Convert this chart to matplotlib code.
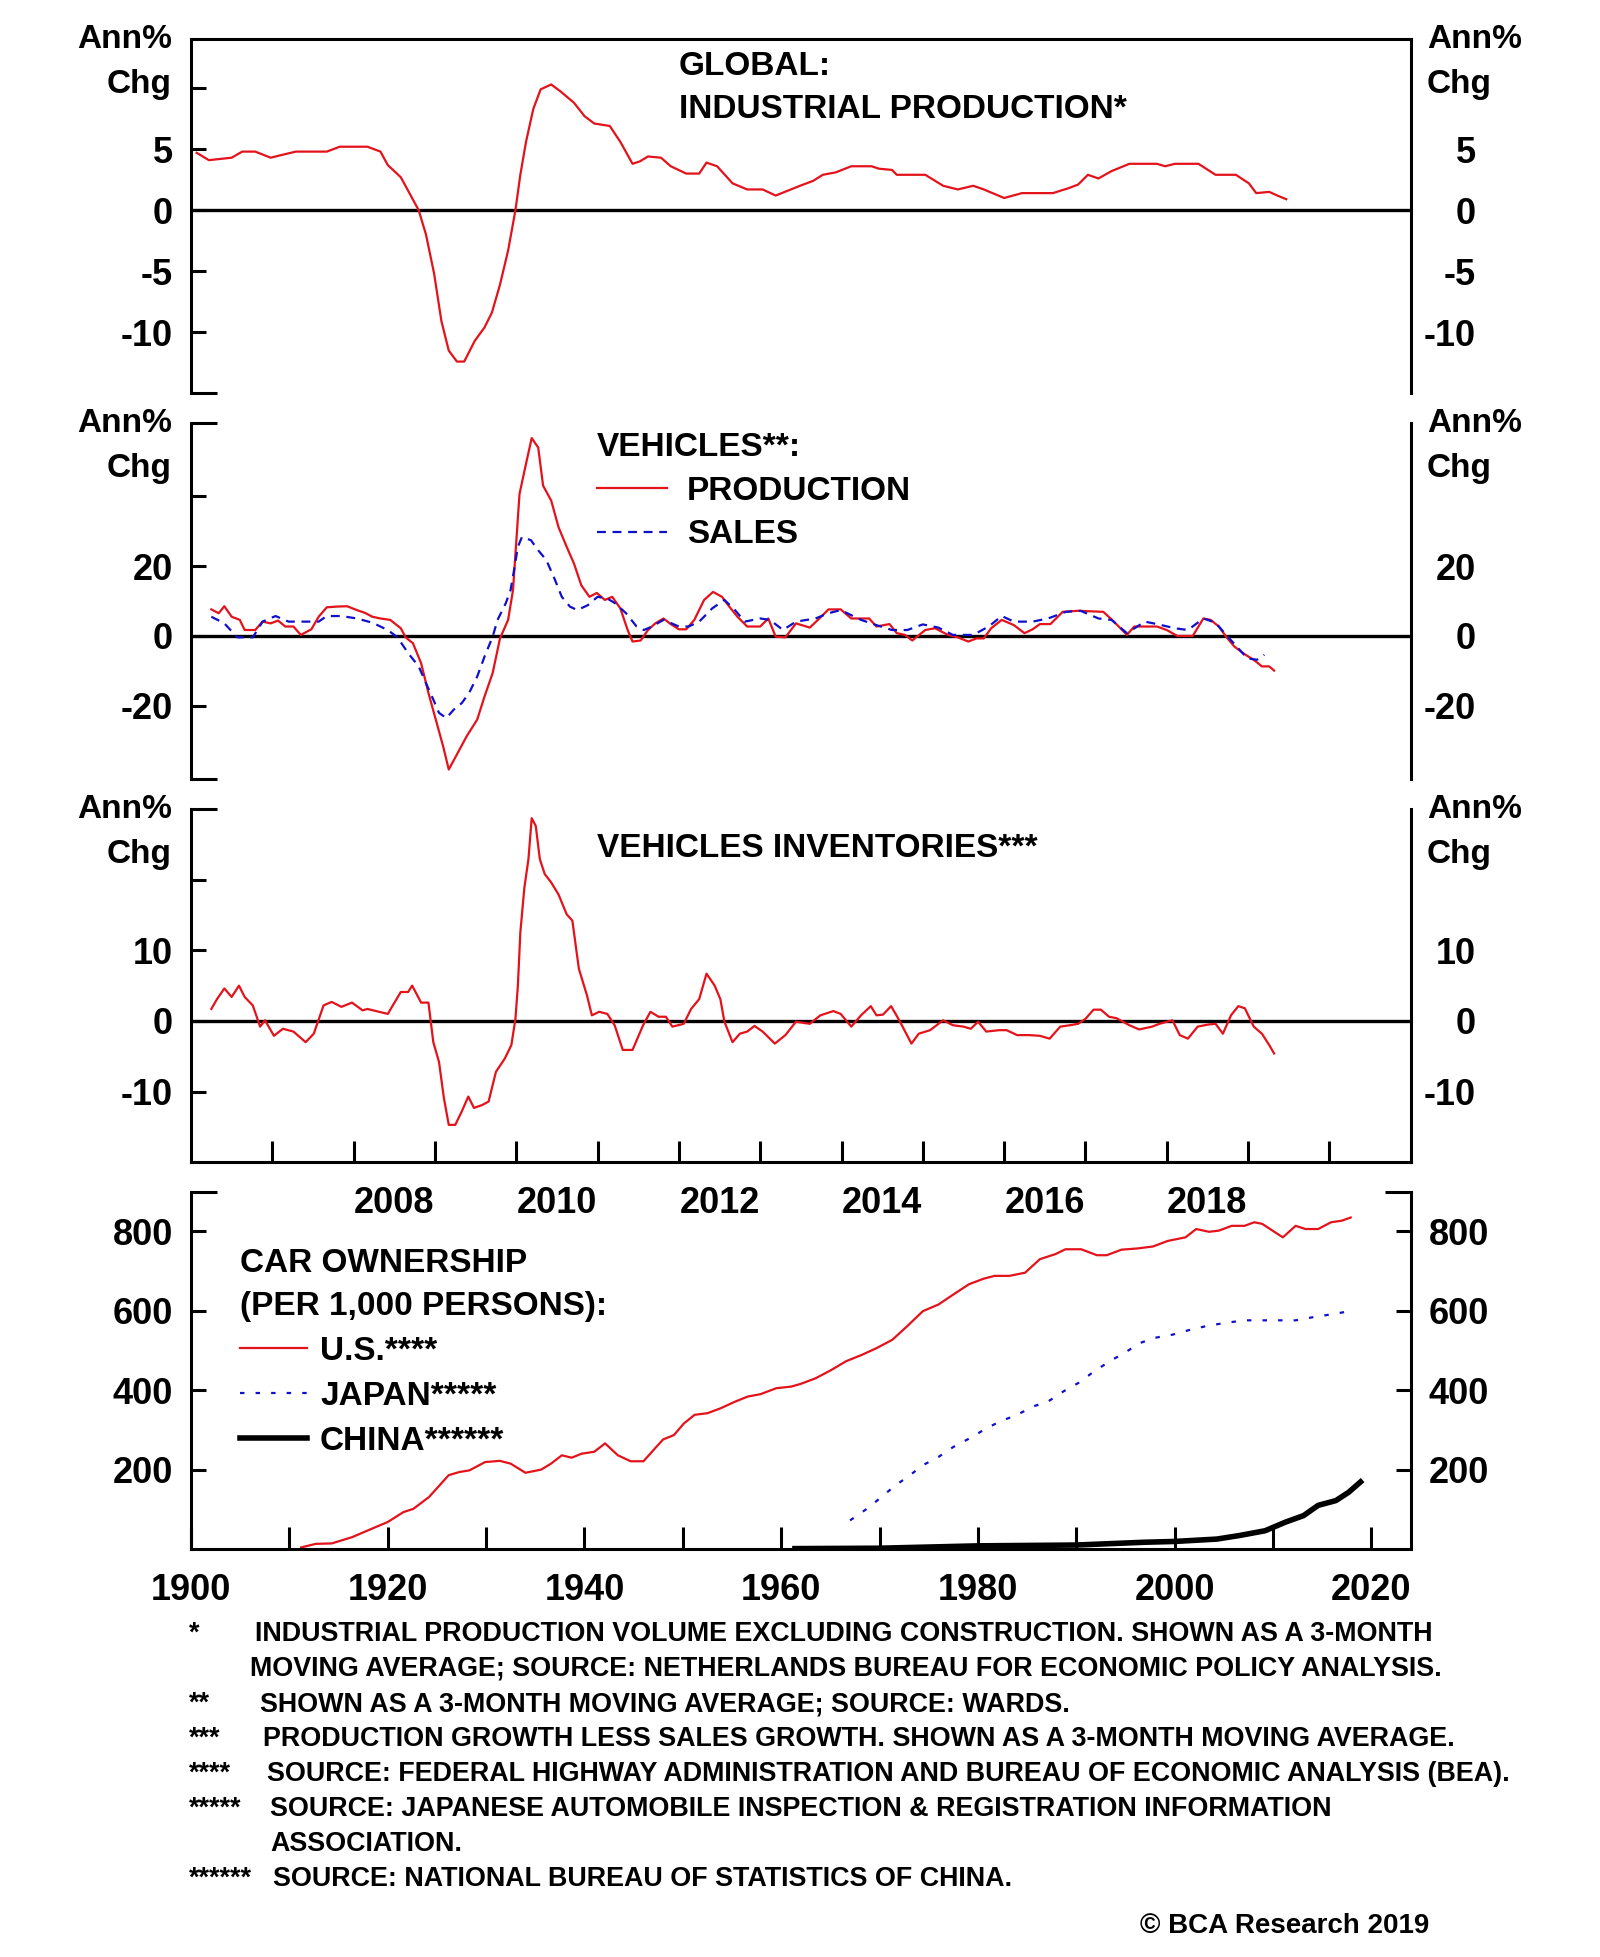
import matplotlib
matplotlib.use("Agg")
import matplotlib.pyplot as plt

plt.rcParams['font.family'] = ['Liberation Sans', 'DejaVu Sans']
plt.rcParams['font.weight'] = 'bold'

RED = '#e3121b'
BLUE = '#1010cc'

# ---- global industrial production, ann % chg (decimal years) ----
ip_t = [2006.07, 2006.22, 2006.5, 2006.63, 2006.79, 2006.98, 2007.1, 2007.29, 2007.67, 2007.83,
        2008.17, 2008.33, 2008.42, 2008.58, 2008.67, 2008.8, 2008.89, 2008.99, 2009.08, 2009.17,
        2009.27, 2009.36, 2009.49, 2009.61, 2009.7, 2009.8, 2009.9, 2009.99, 2010.05, 2010.12,
        2010.21, 2010.3, 2010.43, 2010.55, 2010.71, 2010.84, 2010.96, 2011.15, 2011.28, 2011.43,
        2011.52, 2011.62, 2011.78, 2011.9, 2012.09, 2012.25, 2012.34, 2012.47, 2012.66, 2012.84,
        2013.03, 2013.19, 2013.34, 2013.49, 2013.65, 2013.77, 2013.93, 2014.12, 2014.37, 2014.46,
        2014.62, 2014.68, 2015.03, 2015.25, 2015.43, 2015.62, 2015.75, 2016.0, 2016.22, 2016.6,
        2016.79, 2016.91, 2017.03, 2017.16, 2017.32, 2017.54, 2017.88, 2017.98, 2018.1, 2018.39,
        2018.6, 2018.85, 2019.01, 2019.1, 2019.26, 2019.36, 2019.47]
ip_v = [4.7, 4.1, 4.3, 4.8, 4.8, 4.3, 4.5, 4.8, 4.8, 5.2,
        5.2, 4.8, 3.7, 2.7, 1.6, 0.0, -2.0, -5.2, -9.1, -11.5,
        -12.4, -12.4, -10.7, -9.6, -8.4, -6.1, -3.3, 0.0, 2.9, 5.6,
        8.3, 9.9, 10.3, 9.7, 8.8, 7.7, 7.1, 6.9, 5.6, 3.8,
        4.0, 4.4, 4.3, 3.6, 3.0, 3.0, 3.9, 3.6, 2.2, 1.7,
        1.7, 1.2, 1.6, 2.0, 2.4, 2.9, 3.1, 3.6, 3.6, 3.4,
        3.3, 2.9, 2.9, 2.0, 1.7, 2.0, 1.7, 1.0, 1.4, 1.4,
        1.8, 2.1, 2.9, 2.6, 3.2, 3.8, 3.8, 3.6, 3.8, 3.8,
        2.9, 2.9, 2.2, 1.4, 1.5, 1.2, 0.9]

# ---- vehicles: production and sales, ann % chg ----
prod_t = [2006.25, 2006.34, 2006.41, 2006.5, 2006.6, 2006.66, 2006.79, 2006.88, 2006.98, 2007.07,
          2007.16, 2007.26, 2007.35, 2007.48, 2007.57, 2007.67, 2007.79, 2007.92, 2008.04, 2008.14,
          2008.23, 2008.33, 2008.45, 2008.58, 2008.64, 2008.73, 2008.83, 2008.92, 2009.01, 2009.1,
          2009.17, 2009.27, 2009.39, 2009.52, 2009.61, 2009.71, 2009.8, 2009.9, 2009.96, 2010.04,
          2010.11, 2010.19, 2010.27, 2010.33, 2010.43, 2010.52, 2010.62, 2010.71, 2010.8, 2010.9,
          2010.99, 2011.09, 2011.18, 2011.28, 2011.37, 2011.43, 2011.53, 2011.62, 2011.71, 2011.81,
          2011.9, 2012.0, 2012.09, 2012.19, 2012.31, 2012.42, 2012.53, 2012.62, 2012.72, 2012.84,
          2013.0, 2013.1, 2013.19, 2013.31, 2013.44, 2013.61, 2013.71, 2013.84, 2013.99, 2014.12,
          2014.34, 2014.43, 2014.59, 2014.68, 2014.78, 2014.87, 2015.03, 2015.15, 2015.31, 2015.43,
          2015.56, 2015.66, 2015.75, 2015.84, 2015.97, 2016.12, 2016.25, 2016.35, 2016.44, 2016.57,
          2016.72, 2016.91, 2017.22, 2017.35, 2017.51, 2017.6, 2017.76, 2017.88, 2018.0, 2018.13,
          2018.32, 2018.45, 2018.54, 2018.64, 2018.73, 2018.83, 2018.95, 2019.08, 2019.17, 2019.26,
          2019.32]
prod_v = [7.6, 6.5, 8.5, 5.5, 4.6, 1.7, 1.7, 4.1, 3.6, 4.4,
          2.7, 2.7, 0.3, 1.9, 5.5, 8.2, 8.4, 8.5, 7.4, 6.6,
          5.5, 5.0, 4.6, 2.2, -0.4, -2.1, -7.8, -16.3, -23.9, -31.5,
          -38.2, -33.9, -28.7, -23.9, -17.3, -10.6, -0.7, 4.6, 13.1, 40.6,
          48.2, 56.6, 53.9, 43.0, 38.7, 31.1, 25.5, 20.7, 14.5, 11.2,
          12.3, 10.3, 11.2, 7.9, 1.7, -1.6, -1.3, 1.7, 3.6, 5.0,
          3.4, 1.9, 1.9, 4.6, 10.3, 12.6, 11.2, 8.4, 5.5, 2.7,
          2.7, 5.0, -0.2, -0.4, 3.6, 2.4, 4.6, 7.6, 7.6, 5.0,
          5.0, 2.7, 3.4, 0.8, 0.3, -1.3, 1.7, 2.2, 0.3, -0.4,
          -1.6, -0.7, -0.7, 2.2, 4.6, 3.1, 0.8, 1.9, 3.4, 3.4,
          6.9, 7.2, 6.9, 4.1, 0.3, 2.7, 2.7, 2.7, 1.7, 0.0,
          0.0, 5.0, 4.6, 2.7, -0.2, -3.0, -5.1, -7.0, -8.7, -8.7,
          -9.9]

sales_t = [2006.25, 2006.41, 2006.57, 2006.76, 2006.88, 2007.04, 2007.2, 2007.41, 2007.57, 2007.67,
           2007.85, 2008.04, 2008.23, 2008.42, 2008.54, 2008.67, 2008.8, 2008.89, 2008.98, 2009.05,
           2009.14, 2009.23, 2009.33, 2009.42, 2009.52, 2009.61, 2009.71, 2009.77, 2009.87, 2009.93,
           2009.98, 2010.02, 2010.07, 2010.18, 2010.27, 2010.37, 2010.47, 2010.56, 2010.66, 2010.75,
           2010.88, 2011.0, 2011.12, 2011.22, 2011.35, 2011.48, 2011.57, 2011.67, 2011.81, 2012.0,
           2012.12, 2012.25, 2012.41, 2012.56, 2012.69, 2012.81, 2013.0, 2013.12, 2013.28, 2013.44,
           2013.68, 2013.84, 2013.99, 2014.24, 2014.43, 2014.62, 2014.81, 2015.0, 2015.19, 2015.37,
           2015.62, 2015.81, 2015.97, 2016.12, 2016.35, 2016.54, 2016.76, 2016.94, 2017.16, 2017.32,
           2017.51, 2017.73, 2017.88, 2018.1, 2018.26, 2018.45, 2018.6, 2018.73, 2018.86, 2018.99,
           2019.11, 2019.2]
sales_v = [5.5, 3.6, -0.4, -0.4, 4.1, 5.7, 4.1, 4.1, 4.1, 5.7,
           5.7, 5.0, 3.8, 1.7, -0.4, -4.9, -8.7, -13.5, -18.2, -22.0,
           -23.5, -21.1, -19.2, -16.3, -11.6, -5.9, -0.2, 4.6, 9.3, 13.1,
           19.8, 25.5, 28.3, 27.4, 24.5, 21.7, 16.4, 11.2, 8.4, 7.4,
           8.8, 11.2, 10.7, 9.3, 6.5, 2.7, 1.7, 2.7, 4.6, 2.7,
           2.7, 4.1, 7.9, 10.3, 7.4, 4.1, 5.0, 4.6, 1.7, 4.1,
           5.0, 6.5, 7.4, 4.6, 3.1, 1.7, 1.7, 3.3, 2.4, 0.3,
           0.3, 2.7, 5.7, 4.1, 4.1, 5.0, 6.9, 7.2, 5.0, 4.6,
           0.8, 4.1, 3.4, 2.2, 1.7, 5.0, 3.8, 0.3, -3.0, -6.4,
           -6.8, -5.4]

# ---- vehicle inventories, ann % chg ----
inv_t = [2006.25, 2006.32, 2006.41, 2006.5, 2006.59, 2006.66, 2006.76, 2006.85, 2006.91, 2007.02,
         2007.13, 2007.26, 2007.41, 2007.51, 2007.63, 2007.73, 2007.85, 2007.98, 2008.11, 2008.17,
         2008.42, 2008.58, 2008.67, 2008.72, 2008.83, 2008.92, 2008.98, 2009.05, 2009.11, 2009.17,
         2009.25, 2009.33, 2009.41, 2009.48, 2009.58, 2009.66, 2009.75, 2009.86, 2009.94, 2009.99,
         2010.02, 2010.05, 2010.1, 2010.15, 2010.19, 2010.24, 2010.29, 2010.35, 2010.43, 2010.52,
         2010.62, 2010.69, 2010.77, 2010.87, 2010.93, 2011.02, 2011.12, 2011.21, 2011.31, 2011.43,
         2011.56, 2011.65, 2011.75, 2011.84, 2011.92, 2012.06, 2012.15, 2012.25, 2012.34, 2012.44,
         2012.51, 2012.56, 2012.66, 2012.75, 2012.84, 2012.93, 2013.03, 2013.18, 2013.31, 2013.44,
         2013.61, 2013.74, 2013.9, 2013.99, 2014.12, 2014.24, 2014.36, 2014.43, 2014.51, 2014.61,
         2014.71, 2014.86, 2014.95, 2015.09, 2015.25, 2015.37, 2015.5, 2015.59, 2015.68, 2015.78,
         2015.94, 2016.03, 2016.16, 2016.31, 2016.44, 2016.56, 2016.69, 2016.81, 2016.91, 2017.0,
         2017.1, 2017.19, 2017.29, 2017.38, 2017.54, 2017.66, 2017.82, 2017.91, 2018.07, 2018.16,
         2018.26, 2018.38, 2018.51, 2018.6, 2018.69, 2018.79, 2018.88, 2018.96, 2019.07, 2019.17,
         2019.26, 2019.32]
inv_v = [1.7, 3.1, 4.6, 3.4, 5.0, 3.4, 2.2, -0.8, 0.1, -2.1,
         -1.1, -1.5, -3.0, -1.8, 2.2, 2.7, 2.0, 2.6, 1.5, 1.7,
         1.0, 4.1, 4.1, 5.0, 2.6, 2.6, -3.0, -5.8, -10.9, -14.7,
         -14.7, -12.8, -10.7, -12.3, -11.9, -11.4, -7.2, -5.3, -3.4, 0.3,
         5.0, 12.5, 18.9, 22.9, 28.7, 27.6, 22.9, 20.8, 19.6, 17.9,
         15.1, 14.2, 7.4, 3.6, 0.8, 1.3, 1.0, -0.6, -4.1, -4.1,
         -0.6, 1.3, 0.6, 0.6, -0.8, -0.4, 1.7, 3.1, 6.7, 5.0,
         3.1, -0.1, -3.0, -1.8, -1.5, -0.7, -1.5, -3.2, -2.0, -0.1,
         -0.4, 0.8, 1.4, 1.0, -0.8, 0.8, 2.1, 0.8, 0.9, 2.1,
         0.1, -3.2, -1.8, -1.3, 0.1, -0.6, -0.8, -1.1, -0.1, -1.5,
         -1.3, -1.3, -2.0, -2.0, -2.1, -2.5, -0.8, -0.6, -0.4, 0.3,
         1.6, 1.6, 0.6, 0.4, -0.6, -1.2, -0.8, -0.4, 0.1, -2.0,
         -2.5, -0.8, -0.5, -0.4, -1.8, 0.8, 2.1, 1.8, -0.8, -1.8,
         -3.4, -4.6]

# ---- car ownership per 1,000 persons ----
us_t = [1911.2, 1912.7, 1914.3, 1916.4, 1917.9, 1920.0, 1921.6, 1922.6, 1924.2, 1926.2,
        1927.3, 1928.3, 1929.9, 1931.4, 1932.5, 1934.0, 1935.6, 1936.6, 1937.7, 1938.7,
        1939.7, 1941.0, 1942.1, 1943.4, 1944.7, 1946.0, 1947.3, 1948.0, 1949.1, 1950.1,
        1951.2, 1952.5, 1953.8, 1955.3, 1956.6, 1957.9, 1959.5, 1961.0, 1962.0, 1963.5,
        1965.1, 1966.6, 1968.2, 1969.7, 1971.3, 1972.8, 1974.4, 1976.0, 1977.5, 1979.1,
        1980.6, 1981.7, 1983.2, 1984.8, 1986.3, 1987.9, 1988.9, 1990.5, 1992.1, 1993.1,
        1994.6, 1996.2, 1997.8, 1999.3, 2001.1, 2002.2, 2003.5, 2004.5, 2005.8, 2007.1,
        2008.1, 2008.9, 2011.0, 2012.3, 2013.3, 2014.6, 2015.9, 2017.0, 2017.9]
us_v = [4, 13, 14, 30, 46, 68, 93, 101, 131, 186,
        194, 198, 219, 222, 215, 192, 200, 215, 236, 230,
        240, 245, 266, 236, 221, 221, 257, 276, 287, 316,
        338, 342, 354, 371, 384, 390, 405, 409, 416, 430,
        451, 473, 489, 506, 527, 561, 599, 616, 641, 667,
        681, 688, 688, 696, 730, 743, 755, 755, 740, 740,
        754, 757, 762, 776, 785, 806, 799, 802, 814, 814,
        823, 819, 785, 814, 806, 806, 823, 827, 835]

japan_t = [1967.0, 1968.7, 1970.0, 1971.6, 1973.1, 1974.4, 1976.0, 1977.5, 1979.1, 1980.6,
           1982.2, 1984.0, 1985.6, 1987.1, 1988.7, 1990.2, 1991.8, 1993.4, 1994.9, 1996.5,
           1998.0, 1999.8, 2001.7, 2003.5, 2005.3, 2007.1, 2008.9, 2010.7, 2012.3, 2014.1,
           2015.9, 2017.8]
japan_v = [72, 101, 127, 160, 186, 211, 232, 257, 278, 300,
           321, 338, 359, 371, 397, 418, 447, 473, 494, 519,
           532, 540, 553, 563, 570, 576, 576, 576, 576, 584,
           591, 599]

china_t = [1961.4, 1970.0, 1980.1, 1990.0, 1996.9, 2000.0, 2004.3, 2006.6, 2009.2, 2011.3,
           2013.1, 2014.6, 2016.4, 2017.7, 2018.9]
china_v = [1, 2, 8, 10, 17, 19, 25, 34, 46, 68,
           84, 110, 122, 143, 169]

# ---- axes text ----
year_ticks = list(range(2007, 2021))
year_labels = [2008, 2010, 2012, 2014, 2016, 2018]
decades = list(range(1900, 2030, 10))
decade_labels = [str(d) if d % 20 == 0 else '' for d in decades]

footnote_marks = ['*', '', '**', '***', '****', '*****', '', '******']
footnote_text = [
    'INDUSTRIAL PRODUCTION VOLUME EXCLUDING CONSTRUCTION. SHOWN AS A 3-MONTH',
    'MOVING AVERAGE; SOURCE: NETHERLANDS BUREAU FOR ECONOMIC POLICY ANALYSIS.',
    'SHOWN AS A 3-MONTH MOVING AVERAGE; SOURCE: WARDS.',
    'PRODUCTION GROWTH LESS SALES GROWTH. SHOWN AS A 3-MONTH MOVING AVERAGE.',
    'SOURCE: FEDERAL HIGHWAY ADMINISTRATION AND BUREAU OF ECONOMIC ANALYSIS (BEA).',
    'SOURCE: JAPANESE AUTOMOBILE INSPECTION & REGISTRATION INFORMATION',
    'ASSOCIATION.',
    'SOURCE: NATIONAL BUREAU OF STATISTICS OF CHINA.',
]

W_PX, H_PX = 1600, 1957
fig = plt.figure(figsize=(W_PX / 100, H_PX / 100), dpi=100)


def fx(x):
    return x / W_PX


def fy(y):
    return 1 - y / H_PX


def panel(top, bottom):
    ax = fig.add_axes([fx(191), fy(bottom), fx(1410.7) - fx(191), (bottom - top) / H_PX])
    ax.patch.set_alpha(0)
    return ax


TICK = 26
NOTE = 24
FOOT = 19.4
LW_AX = 2.2


def style(ax, lo, hi, ticks, labels, caps, top=False, bottom=False, right_twin=True):
    ax.set_ylim(lo, hi)
    for s in ax.spines.values():
        s.set_linewidth(LW_AX)
    ax.spines['top'].set_visible(top)
    ax.spines['bottom'].set_visible(bottom)
    ax.set_yticks(ticks, labels)
    ax.set_yticks(caps, minor=True)
    ax.tick_params(axis='y', which='major', direction='in', length=11, width=LW_AX,
                   left=True, right=True, labelsize=TICK, pad=13)
    ax.tick_params(axis='y', which='minor', direction='in', length=19, width=LW_AX,
                   left=True, right=True)
    if right_twin:
        tw = ax.twinx()
        tw.set_ylim(lo, hi)
        tw.set_yticks(ticks, labels)
        tw.tick_params(axis='y', length=0, labelsize=TICK, pad=47)
        for lab in tw.get_yticklabels():
            lab.set_horizontalalignment('right')
        for s in tw.spines.values():
            s.set_visible(False)
    else:
        ax.tick_params(axis='y', labelright=True)


def ann_chg(top):
    for x, ha in [(172, 'right'), (1427, 'left')]:
        fig.text(fx(x), fy(top), 'Ann%', ha=ha, va='center', fontsize=24)
        fig.text(fx(x), fy(top + 45), 'Chg', ha=ha, va='center', fontsize=24)


# panel 1: global industrial production
ax1 = panel(39.3, 393.3)
ax1.plot(ip_t, ip_v, color=RED, lw=1.6)
ax1.axhline(0, color='black', lw=2.4, zorder=1)
ax1.set_xlim(2006, 2021)
ax1.set_xticks([])
style(ax1, -15, 14, [10, 5, 0, -5, -10], ['', '5', '0', '-5', '-10'], [-15], top=True)
ann_chg(40)
fig.text(fx(679), fy(75), 'GLOBAL:', fontsize=NOTE, va='baseline')
fig.text(fx(679), fy(118), 'INDUSTRIAL PRODUCTION*', fontsize=NOTE, va='baseline')

# panel 2: vehicles production & sales
ax2 = panel(422.7, 779.3)
l_prod, = ax2.plot(prod_t, prod_v, color=RED, lw=1.6)
l_sales, = ax2.plot(sales_t, sales_v, color=BLUE, lw=1.6, ls=(0, (4, 3)))
ax2.axhline(0, color='black', lw=2.4, zorder=1)
ax2.set_xlim(2006, 2021)
ax2.set_xticks([])
style(ax2, -41, 61, [40, 20, 0, -20], ['', '20', '0', '-20'], [-41, 61])
ann_chg(423)
ax2.legend([l_prod, l_sales], ['PRODUCTION', 'SALES'], title='VEHICLES**:',
           loc='upper left', bbox_to_anchor=(fx(597), fy(432)), bbox_transform=fig.transFigure,
           frameon=False, prop={'weight': 'bold', 'size': NOTE},
           title_fontproperties={'weight': 'bold', 'size': NOTE},
           handlelength=2.1, handletextpad=0.6, labelspacing=0.38,
           borderpad=0, borderaxespad=0, alignment='left')

# panel 3: vehicle inventories
ax3 = panel(809, 1162.3)
ax3.plot(inv_t, inv_v, color=RED, lw=1.6)
ax3.axhline(0, color='black', lw=2.4, zorder=1)
ax3.set_xlim(2006, 2021)
ax3.set_xticks(year_ticks, [''] * len(year_ticks))
ax3.set_xticks([y + 0.5 for y in year_labels], [str(y) for y in year_labels], minor=True)
ax3.tick_params(axis='x', which='major', direction='in', length=15, width=LW_AX)
ax3.tick_params(axis='x', which='minor', length=0, labelsize=TICK, pad=17)
style(ax3, -20, 30, [20, 10, 0, -10], ['', '10', '0', '-10'], [30], bottom=True)
ann_chg(809)
fig.text(fx(597), fy(857), 'VEHICLES INVENTORIES***', fontsize=NOTE, va='baseline')

# panel 4: car ownership
ax4 = panel(1191.7, 1549)
l_us, = ax4.plot(us_t, us_v, color=RED, lw=1.6)
l_jp, = ax4.plot(japan_t, japan_v, color=BLUE, lw=1.6, ls=(0, (2, 5)))
l_cn, = ax4.plot(china_t, china_v, color='black', lw=4.0)
ax4.set_xlim(1900, 2024)
ax4.set_xticks(decades, decade_labels)
ax4.tick_params(axis='x', direction='in', length=16, width=LW_AX, labelsize=TICK, pad=17)
style(ax4, 0, 900, [200, 400, 600, 800], ['200', '400', '600', '800'], [900],
      bottom=True, right_twin=False)
leg4 = ax4.legend([l_us, l_jp, l_cn], ['U.S.****', 'JAPAN*****', 'CHINA******'],
                  title='CAR OWNERSHIP\n(PER 1,000 PERSONS):',
                  loc='upper left', bbox_to_anchor=(fx(240), fy(1248)),
                  bbox_transform=fig.transFigure,
                  frameon=False, prop={'weight': 'bold', 'size': NOTE},
                  title_fontproperties={'weight': 'bold', 'size': NOTE},
                  handlelength=2.0, handletextpad=0.4, labelspacing=0.42,
                  borderpad=0, borderaxespad=0, alignment='left')
leg4.get_title().set_linespacing(1.5)

# footnotes
note_x = [255, 250, 260, 263, 267, 270, 270, 273]
for i, (mark, txt) in enumerate(zip(footnote_marks, footnote_text)):
    base = 1641 + 35 * i
    if mark:
        fig.text(fx(189), fy(base), mark, fontsize=FOOT, va='baseline')
    fig.text(fx(note_x[i]), fy(base), txt, fontsize=FOOT, va='baseline')
fig.text(fx(1429), fy(1933), '\u00a9 BCA Research 2019', fontsize=20,
         ha='right', va='baseline')

fig.savefig('out.png', dpi=100)
